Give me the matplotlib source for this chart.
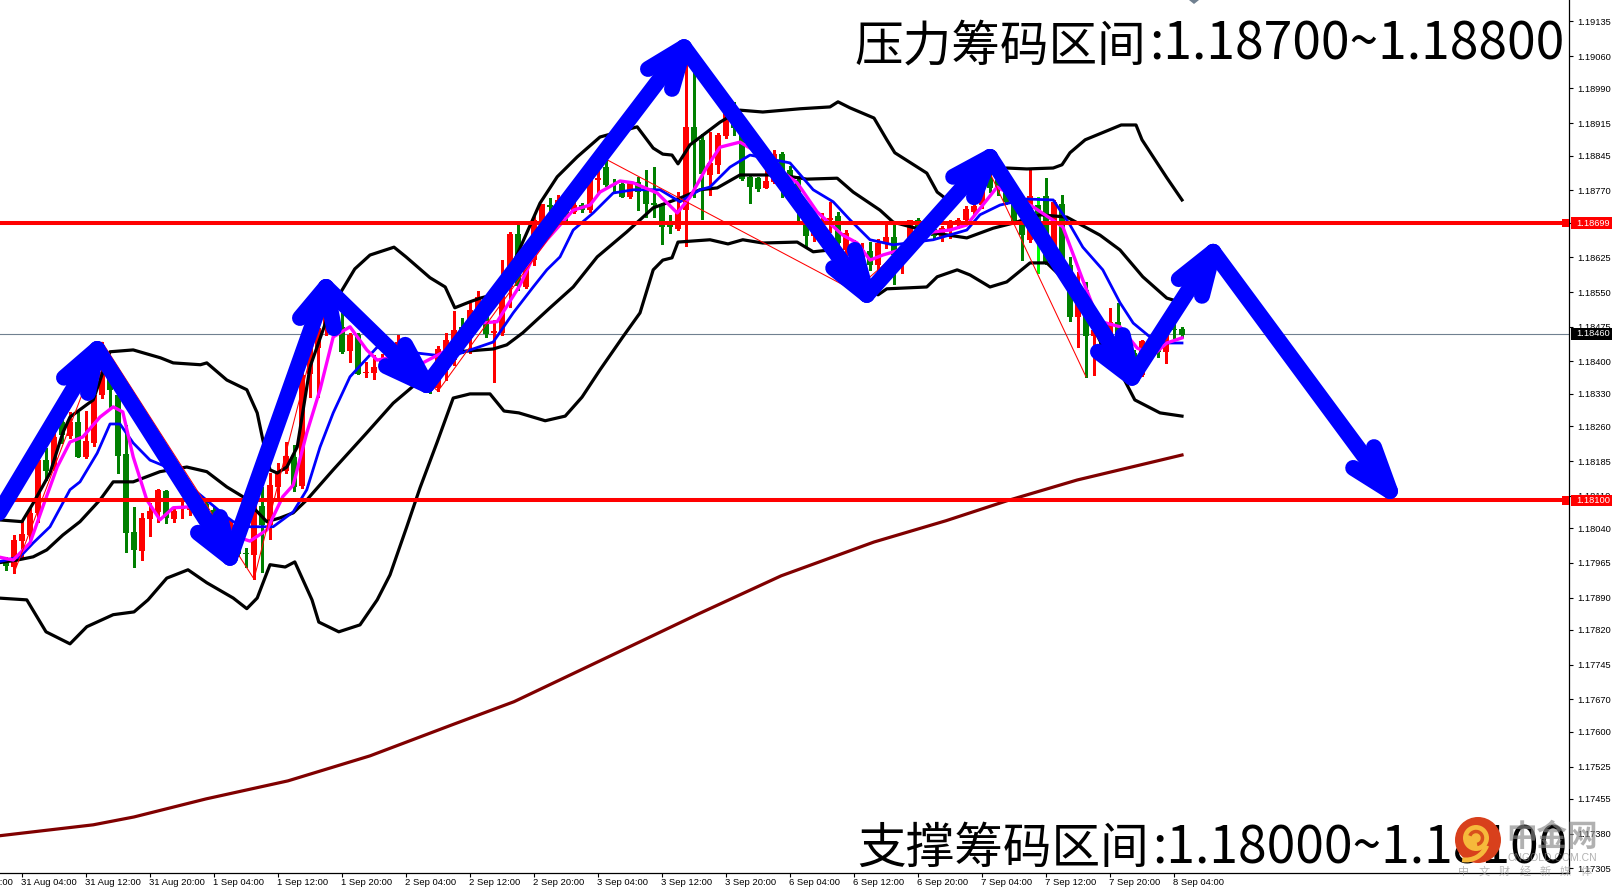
#!/usr/bin/env python3
# -*- coding: utf-8 -*-
# EURUSD style H1 chart with bands, moving averages and hand drawn arrows.

import numpy as np
from matplotlib import pyplot as plt
from matplotlib.patches import Circle, Arc, Rectangle, Polygon

plt.rcParams['font.family'] = ['Noto Sans CJK SC', 'DejaVu Sans']

POINT = 1e-5

# candles, in points (1.18058 -> 118058)
open_pts = [
    117965, 117956, 118012, 118026, 118073, 118187, 118168, 118270, 118239, 118270,
    118194, 118224, 118328, 118377, 118328, 118200, 118032, 117991, 118060, 118075,
    118121, 118060, 118082, 118079, 118108, 118092, 118079, 118058, 118036, 118004,
    117986, 117982, 118088, 118047, 118129, 118164, 118194, 118131, 118373, 118429,
    118473, 118492, 118475, 118423, 118457, 118375, 118375, 118390, 118414, 118425,
    118436, 118403, 118377, 118354, 118343, 118382, 118403, 118475, 118451, 118505,
    118507, 118462, 118462, 118561, 118676, 118561, 118619, 118699, 118738, 118738,
    118738, 118723, 118738, 118727, 118792, 118820, 118784, 118784, 118755, 118788,
    118768, 118742, 118740, 118693, 118686, 118727, 118907, 118879, 118803, 118825,
    118887, 118943, 118905, 118799, 118796, 118775, 118788, 118848, 118814, 118792,
    118710, 118671, 118663, 118706, 118714, 118641, 118652, 118619, 118639, 118609,
    118654, 118669, 118630, 118647, 118706, 118695, 118686, 118669, 118684, 118695,
    118706, 118723, 118738, 118796, 118792, 118781, 118742, 118701, 118663, 118738,
    118758, 118647, 118740, 118609, 118496, 118555, 118455, 118455, 118447, 118486,
    118447, 118419, 118371, 118425, 118436, 118421, 118470, 118470]
close_pts = [
    117959, 118015, 118027, 118073, 118187, 118164, 118237, 118241, 118270, 118194,
    118228, 118328, 118377, 118339, 118196, 118030, 117993, 118062, 118077, 118123,
    118062, 118077, 118086, 118088, 118084, 118073, 118058, 118036, 118058, 117984,
    117984, 118090, 118047, 118133, 118164, 118196, 118129, 118371, 118429, 118473,
    118522, 118473, 118421, 118457, 118373, 118377, 118388, 118403, 118403, 118442,
    118403, 118377, 118356, 118339, 118427, 118447, 118468, 118431, 118511, 118539,
    118460, 118466, 118555, 118676, 118563, 118619, 118706, 118740, 118734, 118749,
    118717, 118738, 118727, 118792, 118796, 118781, 118781, 118755, 118788, 118766,
    118740, 118738, 118691, 118691, 118727, 118907, 118874, 118805, 118829, 118889,
    118937, 118905, 118794, 118777, 118773, 118790, 118848, 118809, 118792, 118738,
    118671, 118686, 118695, 118710, 118656, 118678, 118630, 118641, 118609, 118656,
    118669, 118630, 118647, 118706, 118678, 118680, 118671, 118688, 118699, 118706,
    118730, 118736, 118771, 118775, 118771, 118745, 118701, 118673, 118758, 118663,
    118615, 118745, 118613, 118496, 118527, 118455, 118468, 118436, 118486, 118447,
    118382, 118393, 118444, 118436, 118421, 118464, 118468, 118457]
high_pts = [
    117978, 118026, 118058, 118084, 118202, 118213, 118256, 118289, 118291, 118291,
    118293, 118334, 118442, 118393, 118371, 118263, 118086, 118073, 118094, 118125,
    118123, 118086, 118101, 118101, 118112, 118105, 118088, 118066, 118058, 118036,
    117997, 118090, 118129, 118159, 118181, 118226, 118220, 118377, 118453, 118490,
    118544, 118527, 118505, 118462, 118462, 118399, 118414, 118416, 118425, 118457,
    118447, 118414, 118386, 118371, 118434, 118462, 118509, 118494, 118527, 118552,
    118518, 118490, 118619, 118680, 118704, 118626, 118717, 118740, 118753, 118760,
    118742, 118749, 118742, 118807, 118818, 118837, 118794, 118788, 118790, 118799,
    118814, 118820, 118742, 118717, 118766, 119047, 119030, 118892, 118896, 118894,
    118943, 118961, 118907, 118803, 118799, 118820, 118857, 118853, 118822, 118801,
    118717, 118695, 118721, 118745, 118723, 118684, 118663, 118656, 118658, 118665,
    118695, 118704, 118647, 118706, 118710, 118701, 118693, 118693, 118706, 118710,
    118736, 118745, 118779, 118807, 118801, 118809, 118749, 118706, 118818, 118755,
    118796, 118749, 118760, 118626, 118593, 118572, 118490, 118468, 118516, 118527,
    118455, 118425, 118447, 118442, 118447, 118468, 118486, 118475]
low_pts = [
    117950, 117943, 117976, 118015, 118054, 118144, 118166, 118224, 118235, 118194,
    118192, 118218, 118321, 118302, 118159, 117989, 117956, 117971, 118023, 118054,
    118051, 118054, 118062, 118069, 118075, 118064, 118049, 118028, 118030, 117980,
    117956, 117930, 117945, 118017, 118108, 118159, 118120, 118127, 118323, 118323,
    118457, 118462, 118419, 118399, 118373, 118367, 118362, 118382, 118390, 118421,
    118393, 118364, 118347, 118332, 118336, 118360, 118393, 118419, 118419, 118490,
    118453, 118356, 118457, 118518, 118555, 118559, 118609, 118684, 118712, 118701,
    118701, 118721, 118723, 118723, 118766, 118779, 118764, 118755, 118753, 118727,
    118712, 118712, 118654, 118678, 118684, 118650, 118755, 118708, 118760, 118807,
    118883, 118889, 118792, 118742, 118768, 118775, 118786, 118755, 118781, 118706,
    118647, 118660, 118656, 118680, 118645, 118630, 118619, 118615, 118598, 118593,
    118645, 118568, 118591, 118641, 118671, 118673, 118667, 118660, 118667, 118688,
    118701, 118717, 118732, 118766, 118760, 118740, 118697, 118619, 118658, 118591,
    118611, 118641, 118598, 118488, 118431, 118367, 118371, 118421, 118442, 118436,
    118373, 118377, 118369, 118408, 118410, 118397, 118447, 118453]

# bollinger bands, read at the bars where the curve bends
upper_bars = [-1, 2, 3.4, 5.5, 7.1, 8, 10.9, 13, 15.9, 19.3, 20.9, 24.3, 25.1, 27.6, 30.1, 31.4, 32.1, 33, 33.9,
              35.1, 36.4, 38, 40.5, 43.6, 45.5, 48.5, 50, 53, 54.9, 56.1, 58, 59.3, 61.75, 66.75, 68.9, 71.4,
              74.25, 78.9, 80.9, 82.1, 83.25, 84, 85.5, 89.25, 91.75, 94.6, 99.25, 103, 104, 105.5, 108.5,
              110.1, 111.1, 115.1, 116.4, 118, 123, 125.1, 127.6, 130.9, 132, 133, 134.9, 139.4, 141.25, 142,
              145.1, 147]
upper_pts = [118058, 118054, 118094, 118159, 118246, 118280, 118317, 118421, 118425, 118408, 118397, 118393, 118397,
             118360, 118339, 118289, 118231, 118166, 118159, 118172, 118215, 118388, 118511, 118600, 118630, 118647,
             118626, 118581, 118561, 118516, 118529, 118537, 118548, 118742, 118799, 118842, 118885, 118907, 118861,
             118848, 118846, 118827, 118868, 118917, 118943, 118939, 118946, 118950, 118961, 118948, 118926, 118879,
             118851, 118807, 118766, 118745, 118807, 118818, 118816, 118818, 118825, 118851, 118879, 118911, 118911,
             118879, 118797, 118749]

middle_bars = [-1, 1.4, 3.4, 5.1, 7.1, 9.25, 11.75, 13.4, 15.9, 19.25, 22.6, 25.1, 27.6, 29.6, 32.6, 34.25, 35.9,
               37.6, 40.9, 45.1, 48.4, 51.4, 56.4, 60.9, 62.6, 64.6, 68, 70.9, 73.9, 77.6, 80.9, 84.25, 86.75,
               88.9, 91.75, 96.75, 100.1, 103.9, 105.9, 109.25, 110.9, 115.9, 120.1, 123.4, 125.9, 129.25, 132.6,
               136.75, 139.25, 142.1, 145.1, 147]
middle_pts = [117965, 117971, 117978, 117993, 118025, 118054, 118101, 118140, 118140, 118162, 118172, 118162, 118129,
              118108, 118054, 118062, 118073, 118101, 118166, 118246, 118310, 118354, 118421, 118427, 118436, 118462,
              118516, 118561, 118626, 118680, 118732, 118753, 118771, 118775, 118803, 118803, 118794, 118796, 118766,
              118727, 118701, 118678, 118667, 118688, 118699, 118717, 118712, 118673, 118641, 118583, 118537, 118527]

lower_bars = [-1, 2.6, 5, 8, 10.1, 13.4, 16, 17.75, 20.1, 22.75, 25.1, 28.4, 30.1, 31.4, 33, 34.9, 36.1, 38.25, 39.1,
              41.6, 44.25, 46.4, 48, 50.1, 51.75, 53.9, 55.9, 58, 60.5, 62.25, 64.1, 67.4, 69.9, 72, 74.25, 77.1,
              79.25, 80.9, 82.1, 83.25, 84, 88, 90.25, 92.1, 94.6, 98.9, 100.9, 103, 109, 110.1, 115.1, 116.4,
              118.9, 120.5, 123, 125.1, 128, 130.1, 133.6, 135.5, 137.1, 139.6, 141.1, 144.25, 147]
lower_pts = [117889, 117885, 117816, 117790, 117827, 117853, 117859, 117885, 117932, 117950, 117922, 117889, 117866,
             117889, 117961, 117956, 117967, 117885, 117837, 117816, 117831, 117885, 117939, 118043, 118127, 118226,
             118321, 118330, 118330, 118293, 118289, 118272, 118282, 118323, 118382, 118453, 118505, 118598, 118619,
             118624, 118658, 118663, 118654, 118663, 118656, 118658, 118637, 118641, 118544, 118557, 118561, 118583,
             118598, 118587, 118561, 118572, 118613, 118613, 118555, 118490, 118432, 118367, 118317, 118289, 118282]

# moving averages
blue_bars = [-1, 1.75, 3.4, 5.5, 8, 9.25, 11.4, 13, 14.25, 15.9, 18, 20.1, 27.6, 28.4, 30.5, 33.4, 35.9, 37.6, 39.25,
             40.9, 43, 46.4, 48, 55.5, 60.9, 63.4, 65.9, 67.6, 69.25, 70.9, 73.4, 75.9, 78.4, 81.75, 84.25, 86.75,
             88, 90.5, 93, 98, 100.9, 103.4, 105.5, 108, 110.9, 115.9, 120.1, 121.75, 124.25, 127.6, 130.9, 133,
             134.6, 137.1, 139.25, 140.9, 143, 144.6, 147]
blue_pts = [117967, 117978, 118008, 118043, 118123, 118140, 118202, 118265, 118265, 118224, 118187, 118172, 118064,
            118054, 118043, 118043, 118075, 118123, 118215, 118289, 118367, 118431, 118425, 118410, 118442, 118505,
            118561, 118598, 118626, 118684, 118721, 118764, 118771, 118771, 118745, 118771, 118777, 118820, 118846,
            118829, 118771, 118745, 118706, 118663, 118652, 118663, 118684, 118717, 118738, 118751, 118749, 118695,
            118647, 118598, 118527, 118483, 118453, 118440, 118440]

magenta_bars = [-1, 0.9, 3, 4.6, 6.4, 8, 9.6, 11.75, 13.4, 14.6, 15.9, 17.6, 19.25, 20.9, 23, 25.5, 29.25, 30.5, 32.6,
                34.6, 35.9, 37.6, 39.25, 40.9, 43, 45.1, 46.4, 48.4, 52.1, 57.6, 59.25, 61.4, 64.25, 65.9, 67.6,
                70.9, 73, 74.25, 76.75, 78.4, 81.4, 83.9, 85.5, 87.6, 89.25, 91.75, 93.4, 98.9, 101.4, 104.6, 106.4,
                108, 109.6, 111.75, 115.9, 118, 120.1, 121.4, 123.9, 128.4, 132.1, 134.6, 135.9, 137.1, 139.25,
                141.4, 143.4, 145.1, 147]
magenta_pts = [117978, 117971, 118008, 118086, 118172, 118226, 118237, 118280, 118302, 118291, 118194, 118101, 118058,
               118084, 118086, 118064, 118019, 118012, 118036, 118108, 118133, 118246, 118339, 118453, 118475, 118425,
               118403, 118410, 118397, 118447, 118483, 118486, 118565, 118626, 118663, 118727, 118738, 118766, 118790,
               118786, 118764, 118721, 118755, 118820, 118863, 118874, 118857, 118786, 118723, 118673, 118656, 118619,
               118630, 118641, 118680, 118684, 118695, 118723, 118777, 118734, 118691, 118576, 118518, 118485, 118475,
               118429, 118414, 118440, 118451]

long_ma_bars = [-1, 10.9, 16, 25, 35.25, 45.5, 55.75, 63.5, 76.4, 86.6, 96.9, 108.5, 117.5, 125.1, 133.9, 147]
long_ma_pts = [117375, 117399, 117416, 117455, 117494, 117548, 117615, 117665, 117771, 117855, 117937, 118010, 118056,
               118099, 118144, 118198]

# thin zigzag
zigzag_bars = [1, 12, 31, 40, 54, 75, 106, 123, 135]
zigzag_pts = [117943, 118442, 117930, 118544, 118336, 118837, 118553, 118807, 118367]

# thick hand drawn arrow path, each point after the first is the tip of one arrow
arrow_bars = [-1.4, 11.4, 28, 40, 52.6, 84.75, 107.6, 123, 140.75, 150.9, 173]
arrow_pts = [118058, 118427, 117976, 118561, 118349, 119079, 118544, 118842, 118365, 118637, 118120]
# the two barb ends of each arrow head
barb_a_bars = [7.25, 26.75, 36.75, 49.9, 80.25, 106.1, 118.4, 139.6, 146.6, 171]
barb_a_pts = [118365, 118064, 118494, 118436, 119032, 118641, 118799, 118457, 118578, 118215]
barb_b_bars = [10.25, 24, 41, 47.5, 83.25, 103.4, 121, 136.5, 149.5, 168.4]
barb_b_pts = [118332, 118030, 118472, 118390, 118989, 118602, 118755, 118421, 118542, 118170]

level_high = 1.18699
level_low = 1.18100
last_price = 1.18460

price_ticks = [1.19135, 1.19060, 1.18990, 1.18915, 1.18845, 1.18770, 1.18700, 1.18625, 1.18550, 1.18475, 1.18400,
               1.18330, 1.18260, 1.18185, 1.18110, 1.18040, 1.17965, 1.17890, 1.17820, 1.17745, 1.17670, 1.17600,
               1.17525, 1.17455, 1.17380, 1.17305]
time_ticks = [-6, 2, 10, 18, 26, 34, 42, 50, 58, 66, 74, 82, 90, 98, 106, 114, 122, 130, 138, 146]
time_labels = ['30 Aug 20:00', '31 Aug 04:00', '31 Aug 12:00', '31 Aug 20:00', '1 Sep 04:00', '1 Sep 12:00',
               '1 Sep 20:00', '2 Sep 04:00', '2 Sep 12:00', '2 Sep 20:00', '3 Sep 04:00', '3 Sep 12:00',
               '3 Sep 20:00', '6 Sep 04:00', '6 Sep 12:00', '6 Sep 20:00', '7 Sep 04:00', '7 Sep 12:00',
               '7 Sep 20:00', '8 Sep 04:00']

AXIS_FONT = ['Liberation Sans', 'DejaVu Sans']

fig = plt.figure(figsize=(16.12, 8.90), dpi=100, facecolor='white')
ax = fig.add_axes([0, 17.5 / 890, 1569 / 1612, 872.5 / 890])
ax.set_xlim(-0.75, 195.375)
ax.set_ylim(1.17296, 1.19181)

#Candles
o = np.array(open_pts) * POINT
c = np.array(close_pts) * POINT
h = np.array(high_pts) * POINT
l = np.array(low_pts) * POINT
bars = np.arange(len(o))
colors = ['#ff0000' if cl > op else '#008000' for op, cl in zip(o, c)]
wick_colors = list(colors)
wick_colors[129] = '#00ff00'
ax.vlines(bars, l, h, colors=wick_colors, linewidth=0.8, antialiased=False, zorder=2)
body = np.maximum(np.abs(c - o), 0.00003)
ax.bar(bars, body, bottom=np.minimum(o, c), width=0.7, color=colors, linewidth=0, antialiased=False, zorder=2)

#Indicators
band_style = dict(color='black', linewidth=2.3, zorder=3, solid_joinstyle='round')
ax.plot(upper_bars, np.array(upper_pts) * POINT, **band_style)
ax.plot(middle_bars, np.array(middle_pts) * POINT, **band_style)
ax.plot(lower_bars, np.array(lower_pts) * POINT, **band_style)
ax.plot(long_ma_bars, np.array(long_ma_pts) * POINT, color='#800000', linewidth=2.3, zorder=3)
ax.plot(blue_bars, np.array(blue_pts) * POINT, color='#0000ff', linewidth=2.0, zorder=4)
ax.plot(magenta_bars, np.array(magenta_pts) * POINT, color='#ff00ff', linewidth=2.4, zorder=5)
ax.plot(zigzag_bars, np.array(zigzag_pts) * POINT, color='#ff0000', linewidth=0.75, zorder=5)

#Levels
ax.axhline(last_price, color='#708090', linewidth=0.8, zorder=1)
for level in (level_high, level_low):
    ax.axhline(level, color='#ff0000', linewidth=2.9, zorder=6)

#Arrows, shaft then head as one stroke each
arrow_style = dict(color='#0000ff', linewidth=11.5, zorder=8, solid_capstyle='round', solid_joinstyle='round')
for i in range(len(arrow_bars) - 1):
    tip_x, tip_y = arrow_bars[i + 1], arrow_pts[i + 1] * POINT
    ax.plot([arrow_bars[i], tip_x], [arrow_pts[i] * POINT, tip_y], **arrow_style)
    ax.plot([barb_a_bars[i], tip_x, barb_b_bars[i]], [barb_a_pts[i] * POINT, tip_y, barb_b_pts[i] * POINT], **arrow_style)

#Axes
for side in ('top', 'left'):
    ax.spines[side].set_visible(False)
ax.spines['right'].set_linewidth(0.9)
ax.spines['bottom'].set_linewidth(0.9)
ax.yaxis.tick_right()
ax.set_yticks(price_ticks)
ax.set_yticklabels([f'{p:.5f}' for p in price_ticks], fontsize=6.7, family=AXIS_FONT)
ax.tick_params(axis='y', length=3, width=0.8, pad=3, labelcolor='black')
shown = [t for t in time_ticks if t >= 0]
ax.set_xticks(shown)
ax.set_xticklabels([])
ax.tick_params(axis='x', length=3, width=0.8)
for t, label in zip(time_ticks, time_labels):
    ax.annotate(label, (t, 0), xycoords=('data', 'axes fraction'), xytext=(-1, -10), textcoords='offset pixels',
                ha='left', va='center', fontsize=6.8, family=AXIS_FONT, annotation_clip=False)

#Price tags on the axis
tag_x = ax.get_yaxis_transform()
tag_h = 0.00025
tag_w = 45 / 1569
for price, color in ((level_high, '#ff0000'), (level_low, '#ff0000'), (last_price, 'black')):
    ax.add_patch(Rectangle((1 + 2 / 1569, price - tag_h / 2), tag_w, tag_h, transform=tag_x, facecolor=color,
                           edgecolor='none', clip_on=False, zorder=9))
    ax.text(1 + 7 / 1569, price, f'{price:.5f}', transform=tag_x, color='white', fontsize=6.7, family=AXIS_FONT,
            va='center', ha='left', zorder=10)
for level in (level_high, level_low):
    ax.add_patch(Rectangle((1 - 7 / 1569, level - 0.00009), 7 / 1569, 0.00018, transform=tag_x,
                           facecolor='#ff0000', edgecolor='none', clip_on=False, zorder=9))

#Overlay in screen pixels: captions and watermark
over = fig.add_axes([0, 0, 1, 1], zorder=10)
over.set_xlim(0, 1612)
over.set_ylim(890, 0)
over.axis('off')
over.patch.set_visible(False)
over.text(1146, 60, '压力筹码区间', fontsize=35, ha='right', va='baseline', color='black')
over.text(1149, 60, ':1.18700~1.18800', fontsize=37.2, ha='left', va='baseline', color='black')
over.text(1149, 863, '支撑筹码区间', fontsize=35, ha='right', va='baseline', color='black')
over.text(1152, 863, ':1.18000~1.18100', fontsize=37.2, ha='left', va='baseline', color='black')
over.add_patch(Polygon([(1189, 0), (1199, 0), (1194, 4)], facecolor='#708090', edgecolor='none'))

#Watermark goes above the captions
over.text(1552, 837, '中金网', fontsize=22, fontweight='bold', color='#888888', alpha=0.65, ha='center', va='center',
          zorder=6)
over.text(1552, 858, 'CNGOLD.COM.CN', fontsize=7.5, family=AXIS_FONT, color='#888888', alpha=0.65, ha='center',
          va='center', zorder=6)
for i, ch in enumerate('中文财经新媒体'):
    over.text(1464 + i * 20.3, 872, ch, fontsize=8, color='#999999', alpha=0.7, ha='center', va='center', zorder=6)
over.add_patch(Circle((1478, 840), 23, facecolor='#d8401c', edgecolor='none', zorder=7))
over.add_patch(Circle((1476, 838), 13, facecolor='#f6b93b', edgecolor='none', zorder=8))
over.add_patch(Arc((1476, 838), 13, 13, theta1=200, theta2=80, color='#d8501c', lw=2.5, zorder=9))
over.add_patch(Arc((1466, 838), 44, 44, theta1=20, theta2=100, color='#f6b93b', lw=3.5, zorder=8))

fig.savefig('out.png', dpi=100, facecolor='white')
